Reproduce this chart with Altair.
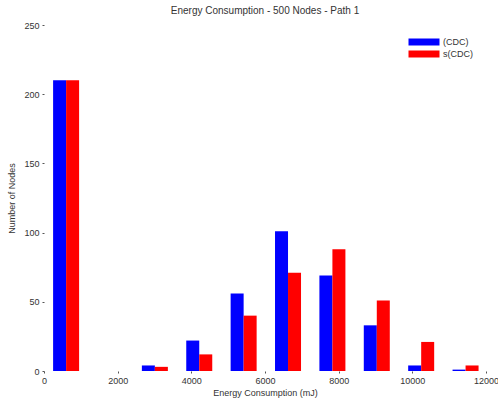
import altair as alt
import pandas as pd

# Histogram bins (bin centres in mJ) and node counts per bin for the two series
bin_centers = [600, 1805, 3010, 4215, 5420, 6625, 7830, 9035, 10240, 11445]
counts_plain = [210, 0, 4, 22, 56, 101, 69, 33, 4, 1]
counts_s = [210, 0, 3, 12, 40, 71, 88, 51, 21, 4]
series_names = ["(CDC)", "s(CDC)"]
series_colors = ["#0000ff", "#ff0000"]
x_ticks = [0, 2000, 4000, 6000, 8000, 10000, 12000]
y_ticks = [0, 50, 100, 150, 200, 250]

rows = []
for side, (name, counts) in enumerate(zip(series_names, [counts_plain, counts_s])):
    for c, v in zip(bin_centers, counts):
        rows.append({"center": c, "count": v, "series": name, "side": side})
df = pd.DataFrame(rows)

FONT = "Liberation Sans"
TXT = "#333333"

bars = (
    alt.Chart(df)
    .transform_calculate(
        x0="datum.center + (datum.side - 1) * 353",
        x1="datum.center + datum.side * 353",
    )
    .mark_rect(opacity=1)
    .encode(
        x=alt.X(
            "x0:Q",
            scale=alt.Scale(domain=[0, 12000], nice=False, zero=False),
            axis=alt.Axis(values=x_ticks, title="Energy Consumption (mJ)", format="d"),
        ),
        x2="x1:Q",
        y=alt.Y(
            "count:Q",
            scale=alt.Scale(domain=[0, 250], nice=False),
            axis=alt.Axis(values=y_ticks, title="Number of Nodes"),
        ),
        y2=alt.datum(0),
        color=alt.Color(
            "series:N",
            scale=alt.Scale(domain=series_names, range=series_colors),
            legend=alt.Legend(
                title=None,
                orient="none",
                legendX=375,
                legendY=12,
                symbolType="M-3.1,-0.7H3.1V0.7H-3.1Z",
                symbolSize=100,
                symbolStrokeWidth=0,
                symbolOpacity=1,
                labelOffset=14,
                rowPadding=2,
                labelFont=FONT,
                labelFontSize=9,
                labelColor=TXT,
            ),
        ),
    )
)

chart = (
    bars.properties(
        width=442,
        height=346,
        title=alt.TitleParams(
            "Energy Consumption - 500 Nodes - Path 1",
            font=FONT,
            fontSize=10,
            fontWeight="normal",
            color=TXT,
            anchor="middle",
            offset=5,
        ),
        autosize=alt.AutoSizeParams(type="none"),
        padding={"left": 44, "top": 25, "right": 12, "bottom": 33},
    )
    .configure_view(stroke=None)
    .configure_axis(
        grid=False,
        domain=False,
        tickSize=2,
        tickColor="#555555",
        labelFont=FONT,
        labelFontSize=9,
        labelColor=TXT,
        labelPadding=3,
        titleFont=FONT,
        titleFontSize=9,
        titleFontWeight="normal",
        titleColor=TXT,
    )
    .configure_axisX(titlePadding=3, labelFlush=False)
    .configure_axisY(titlePadding=7)
)

chart.save("out.html", embed_options={"renderer": "svg", "actions": False})
